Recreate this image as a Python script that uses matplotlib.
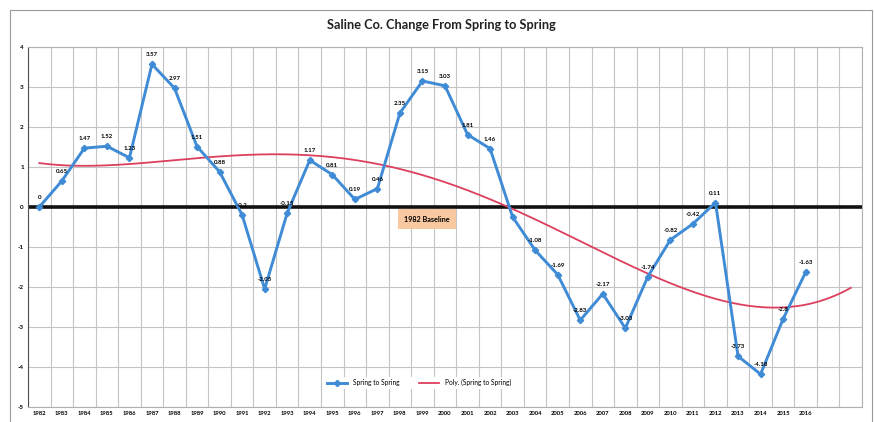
import numpy as np
import matplotlib.pyplot as plt
from matplotlib.patches import Rectangle

plt.rcParams['font.family'] = ['Lato', 'DejaVu Sans']

years = [str(y) for y in range(1982, 2017)]
values = [0, 0.65, 1.47, 1.52, 1.23, 3.57, 2.97, 1.51, 0.88, -0.2,
          -2.05, -0.15, 1.17, 0.81, 0.19, 0.46, 2.35, 3.15, 3.03, 1.81,
          1.46, -0.25, -1.08, -1.69, -2.83, -2.17, -3.03, -1.74, -0.82, -0.42,
          0.11, -3.73, -4.18, -2.8, -1.63]
labels = ['0', '0.65', '1.47', '1.52', '1.23', '3.57', '2.97', '1.51', '0.88', '-0.2',
          '-2.05', '-0.15', '1.17', '0.81', '0.19', '0.46', '2.35', '3.15', '3.03', '1.81',
          '1.46', '', '-1.08', '-1.69', '-2.83', '-2.17', '-3.03', '-1.74', '-0.82', '-0.42',
          '0.11', '-3.73', '-4.18', '-2.8', '-1.63']
n_categories = 37  # axis runs two empty years past 2016

blue = '#3f8bd6'
red = '#dd3f5e'

x = np.arange(len(values))

# Excel-style polynomial trendline, forecast 2 periods forward
coef = np.polyfit(x, values, 4)
xt = np.linspace(0, len(values) + 1, 200)
trend = np.polyval(coef, xt)

fig = plt.figure(figsize=(8.74, 4.22), dpi=100)
ax = fig.add_axes([28 / 874, 1 - 407 / 422, 834 / 874, 360 / 422])

# outer chart border
fig.patches.append(Rectangle((10 / 874, -0.05), 862 / 874, 1.05 - 10 / 422,
                             transform=fig.transFigure, fill=False,
                             edgecolor='#9a9a9a', lw=0.8))

ax.set_xlim(-0.5, n_categories - 0.5)
ax.set_ylim(-5, 4)
ax.set_yticks(range(-5, 5))
ax.set_yticklabels([str(v) for v in range(-5, 5)], fontsize=4.5, fontweight='bold')
ax.set_xticks(x)
ax.set_xticklabels(years, fontsize=4.2, fontweight='bold')
ax.set_xticks(np.arange(-0.5, n_categories, 1), minor=True)
ax.tick_params(axis='both', which='both', length=0, pad=3)
ax.grid(True, which='minor', axis='x', color='#c4c4c4', lw=0.8)
ax.grid(True, which='major', axis='y', color='#c4c4c4', lw=0.8)
ax.grid(False, which='major', axis='x')
ax.set_axisbelow(True)
for side in ['top', 'right', 'bottom']:
    ax.spines[side].set_color('#b0b0b0')
    ax.spines[side].set_linewidth(0.8)
ax.spines['left'].set_color('#505050')

ax.axhline(0, color='#111111', lw=2.6, zorder=2)

ax.plot(x, values, color=blue, lw=2.1, marker='D', ms=3.2, zorder=4,
        label='Spring to Spring')
ax.plot(xt, trend, color=red, lw=1.3, zorder=3, label='Poly. (Spring to Spring)')

for xi, v, t in zip(x, values, labels):
    if t:
        ax.annotate(t, (xi, v), xytext=(0, 5), textcoords='offset points',
                    ha='center', va='bottom', fontsize=4.4, fontweight='bold', zorder=5)

ax.text(17.2, -0.3, '1982 Baseline', fontsize=5.2, fontweight='bold', ha='center',
        va='center', zorder=5,
        bbox=dict(boxstyle='square,pad=0.9', facecolor='#f8c8a0', edgecolor='none'))

leg = ax.legend(loc='center', bbox_to_anchor=(0.469, 0.067), ncol=2, fontsize=4.8,
                frameon=True, fancybox=False, edgecolor='none', framealpha=1,
                handlelength=3, columnspacing=3)

fig.text(441 / 874, 1 - 25 / 422, 'Saline Co. Change From Spring to Spring',
         ha='center', va='center', fontsize=9.2, fontweight='bold', color='#222222')

fig.savefig('out.png', dpi=100)
